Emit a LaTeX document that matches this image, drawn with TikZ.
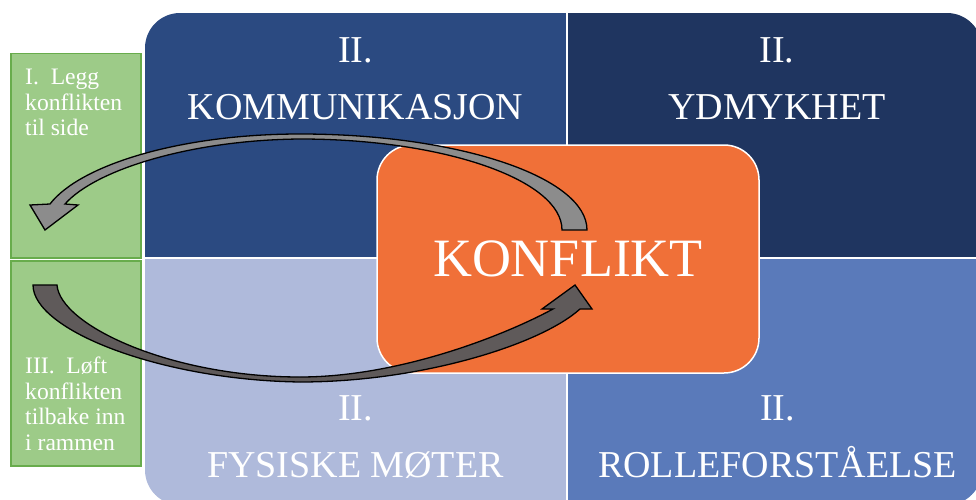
\documentclass[tikz,border=0pt]{standalone}
\usepackage{fontspec}
\setmainfont{Liberation Serif}
\usetikzlibrary{positioning}

\definecolor{kommblue}{RGB}{43,74,129}
\definecolor{ydmblue}{RGB}{31,53,96}
\definecolor{fysblue}{RGB}{175,186,219}
\definecolor{rolleblue}{RGB}{90,122,186}
\definecolor{konforange}{RGB}{240,112,56}
\definecolor{sidegreen}{RGB}{157,203,136}
\definecolor{sideline}{RGB}{104,172,76}
\definecolor{arrowlight}{RGB}{140,140,140}
\definecolor{arrowdark}{RGB}{95,90,90}

\begin{document}
\begin{tikzpicture}[
    x=1pt, y=1pt,
    % Styles (multi-line labels sit on the baseline of their last line)
    quadlabel/.style={text=white, align=center, anchor=base, inner sep=0pt, font=\fontsize{38}{57}\selectfont},
    sidebox/.style={rectangle, draw=sideline, line width=1.5pt, fill=sidegreen, minimum width=130pt, anchor=north west, inner sep=0pt},
    sidetext/.style={text=white, align=left, anchor=base west, inner sep=0pt, font=\fontsize{23.6}{25.5}\selectfont},
    centerbox/.style={rectangle, rounded corners=35pt, fill=konforange, draw=white, line width=1.5pt, text=white, font=\fontsize{54}{60}\selectfont},
    blockarrow/.style={draw=black, line width=1.3pt, line join=miter}
]
\useasboundingbox (0,0) rectangle (976,499);

% --- Quadrants ---
\begin{scope}
    \clip[rounded corners=35pt] (145,-6) rectangle (982,486);
    \fill[kommblue] (145,241) rectangle (567,486);
    \fill[ydmblue] (567,241) rectangle (982,486);
    \fill[fysblue] (145,-6) rectangle (567,241);
    \fill[rolleblue] (567,-6) rectangle (982,241);
    \draw[white, line width=2pt] (567,-6) -- (567,486);
    \draw[white, line width=2pt] (145,241) -- (982,241);
\end{scope}

\node[quadlabel] (komm) at (355.5,379) {II.\\KOMMUNIKASJON};
\node[quadlabel] (ydm) at (777,379) {II.\\YDMYKHET};
\node[quadlabel] (fys) at (355.5,22) {II.\\FYSISKE MØTER};
\node[quadlabel] (rolle) at (777.5,22) {II.\\ROLLEFORSTÅELSE};

% --- Centre ---
\node[centerbox, minimum width=382pt, minimum height=228pt] (konflikt) at (568,240) {KONFLIKT};

% --- Side boxes ---
\node[sidebox, minimum height=204pt] (leggbox) at (10,446) {};
\node[sidebox, minimum height=205pt] (loftbox) at (10,239) {};
\node[sidetext] (legg) at (25,363) {I.\ \ Legg\\konflikten\\til side};
\node[sidetext] (loft) at (25,49) {III.\ \ Løft\\konflikten\\tilbake inn\\i rammen};

% --- Curved arrows ---
% out of the conflict
\draw[blockarrow, fill=arrowlight] (562,269)
    .. controls (562,319) and (444,360) .. (300,360)
    .. controls (190,359) and (95,329) .. (65,295)
    -- (78,294) -- (45,269) -- (30,294) -- (50,295)
    .. controls (80,334) and (180,365) .. (300,365)
    .. controls (458,365) and (587,322) .. (587,269) -- cycle;
% back into the frame
\draw[blockarrow, fill=arrowdark] (57,214)
    .. controls (60,174) and (170,122) .. (300,122)
    .. controls (400,122) and (505,164) .. (553,190)
    -- (542,190) -- (575,214) -- (592,190) -- (580,190)
    .. controls (540,154) and (420,117) .. (300,117)
    .. controls (160,119) and (33,169) .. (33,214) -- cycle;

\end{tikzpicture}
\end{document}
